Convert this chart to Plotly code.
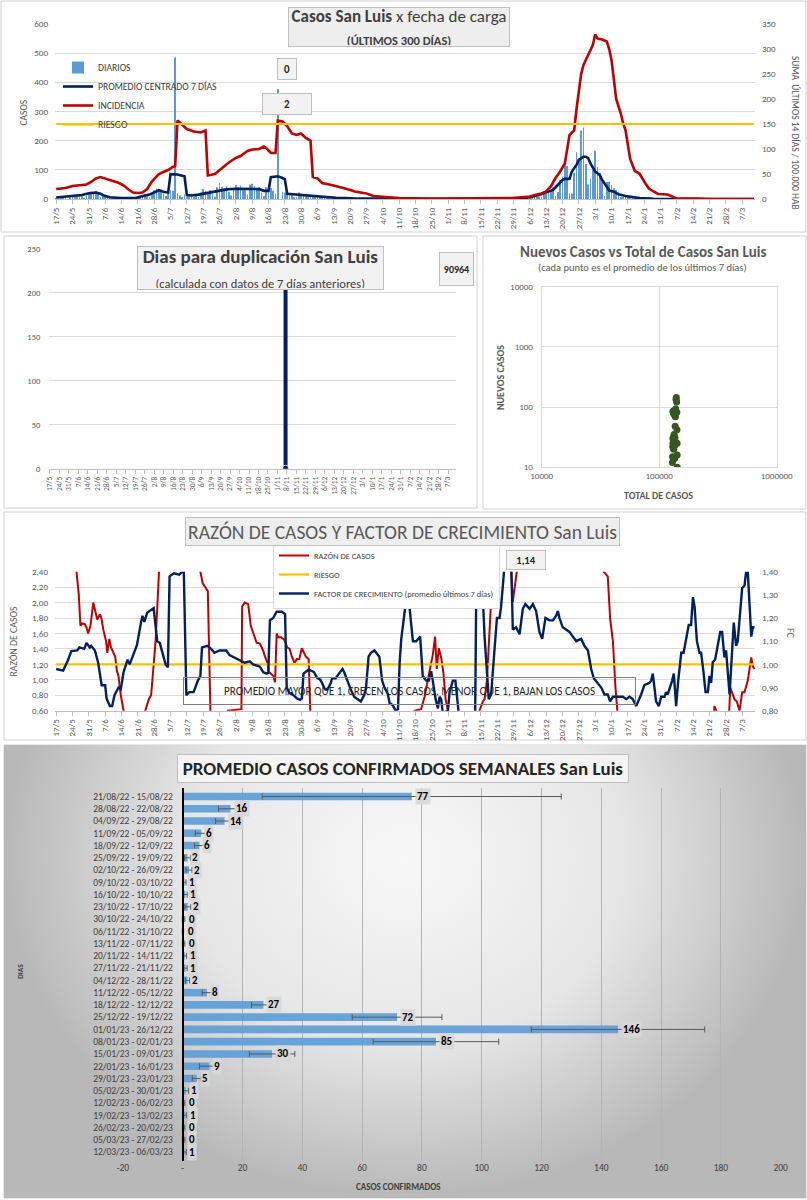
import plotly.graph_objects as go

W, H = 807, 1200
FONT = "Carlito, Lato, sans-serif"


def px(x):
    return x / W


def py(y):
    return 1 - y / H


# ------------------------------------------------------------------ DATA
# x of the daily charts = days since 17/5/2022 (day 0) ... 12/3/2023 (day 299)
tick_days = list(range(0, 295, 7))
tick_text = ["17/5", "24/5", "31/5", "7/6", "14/6", "21/6", "28/6", "5/7", "12/7", "19/7",
             "26/7", "2/8", "9/8", "16/8", "23/8", "30/8", "6/9", "13/9", "20/9", "27/9",
             "4/10", "11/10", "18/10", "25/10", "1/11", "8/11", "15/11", "22/11", "29/11",
             "6/12", "13/12", "20/12", "27/12", "3/1", "10/1", "17/1", "24/1", "31/1",
             "7/2", "14/2", "21/2", "28/2", "7/3"]

# daily reported cases (DIARIOS)
diarios = [
    3, 8, 5, 9, 4, 0, 6,
    12, 8, 14, 10, 15, 3, 12,
    22, 25, 18, 28, 20, 6, 15,
    10, 6, 4, 8, 3, 0, 2,
    2, 4, 3, 1, 5, 0, 2,
    6, 10, 14, 18, 12, 4, 20,
    30, 36, 25, 28, 20, 10, 22,
    30, 28, 485, 20, 12, 6, 15,
    14, 10, 18, 8, 12, 5, 22,
    35, 28, 22, 30, 18, 8, 40,
    55, 42, 30, 44, 25, 12, 35,
    48, 40, 46, 35, 30, 15, 50,
    52, 45, 38, 40, 22, 10,
    40, 36, 38, 28, 18, 376, 0,
    25, 22, 18, 20, 15, 6, 6,
    22, 18, 16, 15, 12, 5, 10,
    10, 8, 6, 7, 5, 2, 4,
    9, 8, 5, 6, 4, 2, 5,
    3, 2, 2, 1, 2, 0, 1,
    3, 2, 3, 2, 2, 1, 2,
    1, 1, 0, 1, 1, 0, 0,
    1, 1, 1, 1, 1, 0, 1,
    2, 2, 1, 2, 3, 0, 2,
    0, 1, 0, 0, 1, 0, 0,
    0, 0, 0, 0, 0, 0, 0,
    0, 1, 0, 0, 1, 0, 0,
    1, 1, 0, 1, 1, 0, 1,
    1, 1, 1, 1, 1, 0, 1,
    2, 1, 2, 2, 2, 0, 2,
    10, 8, 9, 10, 8, 4, 8,
    22, 30, 35, 28, 40, 10, 24,
    65, 77, 119, 113, 19, 19, 90,
    160, 140, 235, 245, 120, 50, 70,
    100, 165, 110, 90, 60, 10, 58,
    59, 48, 37, 31, 25, 6, 4,
    14, 12, 10, 8, 8, 2, 8,
    7, 6, 5, 5, 6, 1, 3,
    2, 1, 1, 1, 1, 0, 1,
    0, 1, 0, 0, 1, 0, 0,
    1, 1, 0, 1, 1, 0, 1,
    0, 0, 1, 0, 1, 0, 0,
    0, 1, 0, 0, 1, 0, 0,
    1, 1, 0, 1, 1, 0, 0,
]
dias = list(range(len(diarios)))

# PROMEDIO CENTRADO 7 DIAS  (day, cases)
promedio = [(0, 5), (7, 10), (11, 14), (14, 20), (17, 22), (19, 18), (21, 10), (23, 6), (28, 3),
            (34, 3), (36, 8), (38, 12), (40, 15), (42, 22), (44, 30), (46, 25), (48, 22), (49, 85),
            (52, 84), (54, 80), (55, 78), (56, 14), (58, 12), (61, 15), (64, 20), (67, 24), (70, 28),
            (73, 33), (77, 35), (83, 35), (87, 34), (89, 28), (91, 28), (92, 75), (95, 78), (97, 72),
            (98, 68), (99, 18), (102, 16), (106, 12), (110, 10), (114, 7), (120, 4), (127, 2),
            (135, 1), (150, 1), (165, 0), (190, 1), (200, 2), (203, 6), (207, 14), (210, 23),
            (213, 31), (215, 48), (217, 65), (218, 69), (220, 69), (221, 94), (223, 117), (224, 134),
            (226, 145), (227, 145), (228, 140), (229, 122), (231, 94), (233, 82), (234, 65),
            (236, 42), (237, 29), (239, 25), (241, 16), (244, 10), (247, 6), (250, 3), (256, 1),
            (270, 0), (299, 0)]

# INCIDENCIA: suma 14 dias / 100.000 hab  (day, value)
incidencia = [(0, 20), (4, 22), (7, 26), (10, 27), (13, 29), (15, 34), (17, 41), (19, 44), (21, 41),
              (23, 38), (25, 36), (27, 32), (29, 27), (31, 19), (33, 13), (35, 12), (37, 13), (39, 20),
              (41, 35), (44, 50), (46, 54), (48, 58), (50, 64), (51, 66), (52, 157), (54, 149),
              (56, 140), (59, 135), (62, 133), (64, 137), (65, 47), (68, 50), (71, 61), (74, 73),
              (77, 82), (79, 86), (82, 96), (84, 99), (87, 100), (89, 105), (90, 102), (92, 92),
              (94, 92), (95, 157), (97, 155), (99, 146), (101, 131), (103, 128), (105, 131),
              (107, 122), (109, 117), (110, 44), (112, 41), (114, 32), (118, 28), (120, 26),
              (123, 22), (126, 18), (128, 15), (133, 11), (136, 6), (141, 4), (147, 2), (160, 1),
              (185, 1), (190, 2), (195, 2), (198, 3), (203, 5), (206, 9), (208, 11), (210, 15),
              (212, 25), (214, 42), (216, 55), (218, 71), (219, 105), (220, 128), (221, 133),
              (222, 137), (223, 180), (224, 218), (225, 250), (226, 268), (227, 278), (228, 285),
              (229, 295), (230, 308), (231, 329), (232, 321), (234, 319), (236, 315), (237, 300),
              (238, 278), (239, 240), (240, 200), (242, 171), (243, 151), (244, 138), (245, 105),
              (246, 80), (248, 56), (250, 51), (252, 35), (254, 21), (256, 15), (258, 10), (262, 9),
              (264, 5), (266, 1), (275, 1), (280, 0), (299, 0)]
riesgo_incidencia = 150

# Dias para duplicacion (day, days)
duplicacion = [(173, 90964), (174, 0)]

# Nuevos casos (prom. 7 dias) vs total de casos
sc_total = [129500, 129900, 130300, 130600, 130900, 131200, 131500, 131900, 132300, 132700,
            133100, 133500, 133900, 134200, 134500, 135400, 135800, 136200, 136700, 137300,
            138100, 139000, 139900, 140700, 141300, 141700, 142000, 142200, 142350]
sc_new = [12, 15, 22, 30, 25, 85, 84, 80, 14, 20, 28, 33, 35, 75, 78, 14, 23, 31, 48, 69, 94,
          134, 145, 122, 82, 42, 25, 16, 10]

# RAZON DE CASOS (day, ratio)  - values outside 0,60-2,40 are off the chart
razon = [(0, 3.0), (8.0, 3.0), (8.7, 2.40), (9.7, 2.10), (10.4, 1.70), (11.2, 1.73), (12.3, 1.72),
         (13.0, 1.68), (13.7, 1.60), (14.7, 1.70), (15.9, 2.00), (16.6, 1.90), (17.6, 1.78),
         (18.8, 1.85), (19.5, 1.78), (20.2, 1.65), (21.4, 1.50), (21.9, 1.35), (22.8, 1.53),
         (23.5, 1.42), (24.5, 1.35), (25.3, 1.30), (26.0, 1.12), (26.7, 1.05), (27.7, 0.80),
         (28.9, 0.60), (29.6, 0.3), (37.6, 0.3), (38.2, 0.60), (39.7, 0.75), (40.7, 0.80),
         (41.6, 1.10), (42.6, 1.50), (43.6, 2.10), (44.4, 2.40), (45.0, 3.0), (61.2, 3.0),
         (61.8, 2.40), (62.8, 2.25), (63.8, 2.20), (65.0, 2.15), (66.1, 0.60), (66.4, 0.3),
         (73.0, 0.3), (73.6, 0.60), (79.4, 0.62), (79.7, 1.95), (80.8, 2.00), (82.3, 1.98),
         (83.4, 1.70), (84.4, 1.62), (85.9, 1.48), (87.3, 1.47), (88.7, 1.38), (89.5, 1.30),
         (90.6, 1.22), (91.2, 1.10), (92.1, 1.08), (93.1, 1.05), (93.8, 0.97), (94.5, 1.60),
         (95.2, 1.55), (96.4, 1.55), (97.4, 1.53), (98.1, 1.50), (99.0, 1.42), (100.1, 1.40),
         (101.0, 1.30), (102.2, 1.22), (103.2, 1.27), (104.2, 1.27), (105.3, 1.41), (106.0, 1.37),
         (107.0, 1.30), (108.2, 1.27), (108.9, 0.60), (109.2, 0.3), (153.0, 0.3), (153.6, 0.60),
         (156.4, 0.62), (157.9, 0.78), (160.0, 1.11), (161.4, 1.32), (162.4, 1.56), (163.1, 1.14),
         (164.0, 1.41), (165.0, 1.29), (166.0, 1.08), (166.9, 0.75), (167.9, 0.60), (168.5, 0.3),
         (180.8, 0.3), (181.4, 0.60), (182.9, 0.72), (183.6, 0.75), (184.6, 0.99), (185.4, 1.50),
         (186.4, 2.01), (187.4, 2.01), (188.6, 2.40), (189.2, 3.0), (194.5, 3.0), (195.0, 2.40),
         (195.7, 2.01), (196.4, 2.16), (197.4, 2.40), (198.0, 3.0), (234.0, 3.0), (234.6, 2.40),
         (236.4, 2.34), (237.4, 1.80), (238.6, 1.50), (239.7, 0.90), (240.7, 0.60), (241.3, 0.3),
         (281.5, 0.3), (282.1, 0.66), (282.9, 0.60), (283.4, 0.3), (288.0, 0.3), (288.9, 0.90),
         (290.7, 0.75), (291.7, 0.72), (292.9, 0.60), (294.0, 0.84), (295.0, 0.84), (296.4, 0.99),
         (297.9, 1.29), (298.6, 1.17), (299.3, 1.14)]
riesgo_razon = 1.20

# FACTOR DE CRECIMIENTO (day, FC) - values outside 0,80-1,40 are off the chart
factor = [(0, 0.98), (3, 0.973), (5, 1.017), (6.5, 1.057), (9, 1.06), (10, 1.073), (12, 1.067),
          (13, 1.093), (14.4, 1.073), (15, 1.08), (16.6, 1.06), (18, 1.007), (19.5, 0.91), (21, 0.91),
          (21.6, 0.853), (23, 0.82), (24, 0.82), (25, 0.867), (26.7, 0.90), (27.7, 0.893),
          (28.9, 0.967), (30.6, 1.02), (31.5, 1.0), (33.2, 1.05), (34.6, 1.083), (36.4, 1.183),
          (37, 1.21), (37.8, 1.183), (39, 1.223), (40.4, 1.233), (41.8, 1.243), (43.3, 1.10),
          (44.4, 1.093), (46.9, 1.0), (47.9, 0.987), (48.6, 1.38), (50.5, 1.393), (52.7, 1.387),
          (54.1, 1.40), (54.6, 1.45), (55.8, 0.867), (57, 0.88), (58.9, 0.88), (60.6, 0.927),
          (61.8, 0.95), (62.5, 1.073), (64.9, 1.08), (66.4, 1.067), (67.8, 1.05), (70, 1.06),
          (72.9, 1.06), (74.3, 1.04), (75.8, 1.033), (77.2, 1.027), (78.6, 1.017), (80.8, 1.007),
          (83, 1.013), (84.4, 1.0), (86.6, 0.993), (87.3, 0.99), (88.7, 0.967), (90.2, 0.96),
          (90.9, 0.963), (91.6, 1.19), (93, 1.20), (94.5, 1.227), (96.7, 1.227), (98.1, 1.217),
          (98.8, 0.90), (99.9, 0.877), (101.7, 0.867), (103.2, 0.853), (104.6, 0.847),
          (105.3, 0.853), (106, 0.96), (108.2, 0.977), (110.4, 0.967), (111.8, 0.943),
          (113.3, 0.933), (114, 0.917), (115.2, 0.893), (116.2, 0.89), (117.6, 0.917), (118.3, 0.94),
          (119.8, 0.94), (121.2, 0.96), (122.7, 0.98), (123.4, 0.967), (124.8, 0.927), (126.3, 0.89),
          (127.7, 0.86), (129.1, 0.85), (130.6, 0.84), (132, 0.867), (132.8, 0.90), (133.9, 1.033),
          (134.9, 1.05), (136.4, 1.06), (137.8, 1.04), (138.5, 1.033), (139.7, 0.93), (140.7, 0.90),
          (142.1, 0.873), (142.9, 0.833), (144.3, 0.823), (145.5, 0.80), (146.5, 0.807),
          (147.2, 1.007), (147.9, 1.11), (150, 1.28), (151.4, 1.25), (152.9, 1.10), (154.3, 1.10),
          (155, 1.11), (156, 1.12), (157.1, 0.95), (158.6, 0.93), (159.7, 0.93), (160.7, 0.97),
          (161.4, 0.93), (162.6, 0.85), (163.6, 0.81), (164.3, 0.86), (165, 0.85), (165.7, 0.79),
          (167.9, 0.80), (168.6, 0.88), (170, 0.93), (171.1, 0.93), (171.7, 0.87), (172.6, 0.78),
          (175.7, 0.70), (179.5, 0.70), (180, 1.28), (181.4, 1.28), (182.6, 1.35), (183.6, 1.12),
          (184.6, 0.97), (185.4, 0.85), (186.4, 0.87), (187.9, 1.05), (188.9, 1.20), (190, 1.20),
          (190.7, 1.25), (192.1, 1.42), (195, 1.45), (195.7, 1.15), (197.1, 1.16), (198.6, 1.13),
          (200, 1.24), (201.1, 1.26), (202.9, 1.24), (204.3, 1.26), (205.7, 1.23), (207.1, 1.14),
          (208.3, 1.11), (209.7, 1.20), (211.4, 1.19), (212.9, 1.19), (214.3, 1.21), (215, 1.23),
          (215.7, 1.20), (217.1, 1.16), (218.6, 1.15), (220, 1.14), (221.4, 1.12), (222.9, 1.10),
          (225, 1.11), (226.4, 1.08), (227.9, 1.06), (229.3, 0.98), (230.4, 0.94), (232.1, 0.92),
          (233.6, 0.90), (235, 0.87), (236.4, 0.87), (237.4, 0.84), (238.6, 0.86), (240.7, 0.86),
          (242.9, 0.86), (244.3, 0.85), (245.7, 0.86), (247.1, 0.85), (248.6, 0.82), (250.7, 0.87),
          (252.1, 0.91), (254.3, 0.92), (255, 0.93), (255.7, 0.96), (256.4, 0.90), (257.1, 0.84),
          (258.3, 0.82), (259.3, 0.86), (260.7, 0.86), (261.4, 0.88), (262.1, 0.87), (263.1, 0.90),
          (264, 0.93), (264.7, 0.96), (265.7, 0.82), (266.6, 0.93), (267.9, 1.05), (268.9, 1.05),
          (270, 1.11), (271.1, 1.17), (272.1, 1.17), (272.9, 1.29), (273.6, 1.25), (274.6, 1.10),
          (275.7, 1.05), (276.4, 1.05), (277.4, 0.97), (278.3, 0.88), (279.3, 0.88), (280, 0.95),
          (280.7, 0.92), (281.4, 1.01), (282.4, 1.02), (283.6, 1.08), (284.6, 1.14), (285.4, 1.14),
          (286.4, 1.03), (287.1, 1.06), (287.9, 0.97), (288.6, 0.87), (290.4, 1.18), (291.4, 1.08),
          (292.1, 1.10), (292.9, 1.20), (294, 1.33), (295, 1.34), (295.7, 1.40), (296.4, 1.40),
          (297.1, 1.25), (297.9, 1.12), (298.6, 1.16), (299.3, 1.16)]

# PROMEDIO CASOS CONFIRMADOS SEMANALES
semanas = ["21/08/22 - 15/08/22", "28/08/22 - 22/08/22", "04/09/22 - 29/08/22",
           "11/09/22 - 05/09/22", "18/09/22 - 12/09/22", "25/09/22 - 19/09/22",
           "02/10/22 - 26/09/22", "09/10/22 - 03/10/22", "16/10/22 - 10/10/22",
           "23/10/22 - 17/10/22", "30/10/22 - 24/10/22", "06/11/22 - 31/10/22",
           "13/11/22 - 07/11/22", "20/11/22 - 14/11/22", "27/11/22 - 21/11/22",
           "04/12/22 - 28/11/22", "11/12/22 - 05/12/22", "18/12/22 - 12/12/22",
           "25/12/22 - 19/12/22", "01/01/23 - 26/12/22", "08/01/23 - 02/01/23",
           "15/01/23 - 09/01/23", "22/01/23 - 16/01/23", "29/01/23 - 23/01/23",
           "05/02/23 - 30/01/23", "12/02/23 - 06/02/23", "19/02/23 - 13/02/23",
           "26/02/23 - 20/02/23", "05/03/23 - 27/02/23", "12/03/23 - 06/03/23"]
prom_semanal = [76.6, 16.0, 14.0, 6.2, 5.6, 1.6, 2.1, 0.6, 0.9, 1.7, 0.3, 0.1, 0.3, 0.7, 0.9,
                1.6, 8.1, 27.0, 71.7, 145.6, 84.7, 29.9, 8.9, 4.7, 1.0, 0.3, 0.7, 0.3, 0.3, 0.6]
err_semanal = [50, 4, 3, 2, 1.6, 1, 1, 0.5, 0.6, 1, 0.4, 0.2, 0.4, 0.6, 0.6, 0.7, 1.6, 4, 15, 29,
               21, 7.6, 3.3, 1.5, 1, 0.4, 0.5, 0.4, 0.4, 0.6]
bar_ticks = [-20, 0, 20, 40, 60, 80, 100, 120, 140, 160, 180, 200]
bar_ticktext = ["-20", "-", "20", "40", "60", "80", "100", "120", "140", "160", "180", "200"]

# ------------------------------------------------------------------ FIGURE
prom_d, prom_v = zip(*promedio)
inc_d, inc_v = zip(*incidencia)
dup_d, dup_v = zip(*duplicacion)
raz_d, raz_v = zip(*razon)
fc_d, fc_v = zip(*factor)

NAVY = "#002060"
RED = "#c00000"
ORANGE = "#ffc000"
GRID = "#d9d9d9"
TICK = "#595959"

fig = go.Figure()

# background gradient of the weekly panel
fig.add_trace(go.Scatter(x=[0, 1, 1, 0, 0], y=[0, 0, 1.5, 1.5, 0], mode="lines", fill="toself",
                         line=dict(width=0),
                         fillgradient=dict(type="radial",
                                           colorscale=[[0, "#f8f8f8"], [0.55, "#e6e6e6"], [1, "#b8b8b8"]]),
                         hoverinfo="skip", showlegend=False, xaxis="x", yaxis="y"))

# ---- panel 1
fig.add_trace(go.Bar(x=dias, y=diarios, width=0.42, marker=dict(color="#5b9bd5", line=dict(width=0)),
                     name="DIARIOS", xaxis="x2", yaxis="y2", legend="legend"))
fig.add_trace(go.Scatter(x=prom_d, y=prom_v, mode="lines", line=dict(color=NAVY, width=2.6),
                         name="PROMEDIO CENTRADO 7 DÍAS", xaxis="x2", yaxis="y2", legend="legend"))
fig.add_trace(go.Scatter(x=inc_d, y=inc_v, mode="lines", line=dict(color=RED, width=2.6),
                         name="INCIDENCIA", xaxis="x2", yaxis="y3", legend="legend"))
fig.add_trace(go.Scatter(x=[dias[0], dias[-1]], y=[riesgo_incidencia] * 2, mode="lines",
                         line=dict(color=ORANGE, width=2.2), name="RIESGO",
                         xaxis="x2", yaxis="y3", legend="legend"))

# ---- panel 2
fig.add_trace(go.Scatter(x=dup_d, y=dup_v, mode="lines+markers", line=dict(color=NAVY, width=4),
                         marker=dict(color=NAVY, size=[0, 7]), showlegend=False,
                         xaxis="x4", yaxis="y4"))

# ---- panel 3
fig.add_trace(go.Scatter(x=sc_total, y=sc_new, mode="markers",
                         marker=dict(color="#375623", size=7), showlegend=False,
                         xaxis="x5", yaxis="y5"))

# ---- panel 4
fig.add_trace(go.Scatter(x=raz_d, y=raz_v, mode="lines", line=dict(color=RED, width=2),
                         name="RAZÓN DE CASOS", xaxis="x6", yaxis="y6", legend="legend2"))
fig.add_trace(go.Scatter(x=[dias[0], dias[-1]], y=[riesgo_razon] * 2, mode="lines",
                         line=dict(color=ORANGE, width=2.2), name="RIESGO",
                         xaxis="x6", yaxis="y6", legend="legend2"))
fig.add_trace(go.Scatter(x=fc_d, y=fc_v, mode="lines", line=dict(color=NAVY, width=2.4),
                         name="FACTOR DE CRECIMIENTO (promedio últimos 7 días)",
                         xaxis="x6", yaxis="y7", legend="legend2"))

# ---- panel 5
fig.add_trace(go.Bar(x=prom_semanal, y=semanas, orientation="h", width=0.62,
                     marker=dict(color="#5b9bd5", opacity=0.9, line=dict(width=0)),
                     error_x=dict(type="data", array=err_semanal, color="#595959",
                                  thickness=1, width=3),
                     showlegend=False, xaxis="x8", yaxis="y8"))

tickfont = dict(family=FONT, size=9, color=TICK)
day_axis = dict(range=[-0.5, 299.5], tickmode="array", tickvals=tick_days, ticktext=tick_text,
                tickangle=-90, ticks="outside", ticklen=4, tickcolor="#bfbfbf",
                showline=True, linecolor="#bfbfbf", showgrid=False, zeroline=False)

annotations = []


def ann(x, y, text, size=10, color="#404040", **kw):
    d = dict(x=px(x), y=py(y), xref="paper", yref="paper", text=text, showarrow=False,
             xanchor="center", yanchor="middle",
             font=dict(family=FONT, size=size, color=color))
    d.update(kw)
    annotations.append(d)


BOX = dict(bgcolor="#eeeeee", bordercolor="#bfbfbf", borderwidth=1)

# panel 1 texts
ann(398.5, 26.5, "<b>Casos San Luis</b> x fecha de carga<br>"
    "<span style='font-size:12.5px'><b>(ÚLTIMOS 300 DÍAS)</b></span>", size=17, width=218,
    height=36, **BOX)
ann(286.5, 69, "<b>0</b>", size=11, color="#262626", width=16, height=18,
    bgcolor="#f2f2f2", bordercolor="#bfbfbf", borderwidth=1)
ann(286.5, 104.5, "<b>2</b>", size=11, color="#262626", width=46, height=18,
    bgcolor="#f2f2f2", bordercolor="#bfbfbf", borderwidth=1)
ann(23.5, 113, "CASOS", size=9.5, color=TICK, textangle=-90)
ann(795, 133, "SUMA  ÚLTIMOS 14 DÍAS / 100.000 HAB", size=9.5, color=TICK, textangle=90)

# panel 2 texts
ann(260.5, 268, "<b>Dias para duplicación San Luis</b><br>"
    "<span style='font-size:12.5px'>(calculada con datos de 7 días anteriores)</span>",
    size=19, width=243, height=40, bgcolor="#f2f2f2", bordercolor="#bfbfbf", borderwidth=1)
ann(456, 268.5, "<b>90964</b>", size=10, color="#262626", width=31, height=30,
    bgcolor="#f2f2f2", bordercolor="#bfbfbf", borderwidth=1)

# panel 3 texts
ann(642.7, 251.7, "<b>Nuevos Casos vs Total de Casos San Luis</b>", size=15, color=TICK)
ann(642.7, 267.5, "(cada punto es el promedio de los últimos 7 días)", size=10.5, color=TICK)
ann(658, 495, "<b>TOTAL DE CASOS</b>", size=10, color=TICK)
ann(500, 377, "<b>NUEVOS CASOS</b>", size=10, color=TICK, textangle=-90)

# panel 4 texts
ann(402.5, 531, "RAZÓN DE CASOS Y FACTOR DE CRECIMIENTO San Luis", size=19.5, color=TICK,
    width=431, height=25, **BOX)
ann(525.5, 560, "<b>1,14</b>", size=10.5, color="#262626", width=36, height=16,
    bgcolor="#f2f2f2", bordercolor="#bfbfbf", borderwidth=1)
ann(409.5, 691, "PROMEDIO MAYOR QUE 1, CRECEN LOS CASOS, MENOR QUE 1, BAJAN LOS CASOS",
    size=11.2, color="#262626", width=449, height=24, bordercolor="#7f7f7f", borderwidth=1)
ann(13.5, 642, "RAZÓN DE CASOS", size=9.8, color=TICK, textangle=-90)
ann(790, 633, "FC", size=9.8, color=TICK, textangle=90)

# panel 5 texts
ann(403, 768, "<b>PROMEDIO CASOS CONFIRMADOS SEMANALES San Luis</b>", size=19,
    color="#262626", width=448, height=25, bgcolor="#f4f4f4", bordercolor="#bfbfbf",
    borderwidth=1)
ann(20, 972, "<b>DIAS</b>", size=7.5, color="#404040", textangle=-90)
ann(398, 1186, "<b>CASOS CONFIRMADOS</b>", size=9, color="#404040")
for v, s in zip(prom_semanal, semanas):
    annotations.append(dict(x=v, y=s, xref="x8", yref="y8", text="<b>%d</b>" % round(v),
                            showarrow=False, xanchor="left", yanchor="middle", xshift=3,
                            font=dict(family=FONT, size=11, color="#000000"),
                            bgcolor="rgba(215,215,215,0.9)", borderpad=1))

# panel borders
shapes = []
for (x0, y0, x1, y1) in [(1, 1, 806, 232), (4, 236, 477, 508), (483, 236, 806, 509),
                         (4, 512, 806, 740), (4, 745, 806, 1198)]:
    shapes.append(dict(type="rect", xref="paper", yref="paper", x0=px(x0), x1=px(x1),
                       y0=py(y1), y1=py(y0), line=dict(color="#d0d0d0", width=1),
                       fillcolor="rgba(0,0,0,0)", layer="below"))

fig.update_layout(
    width=W, height=H, autosize=False,
    margin=dict(l=0, r=0, t=0, b=0, pad=0, autoexpand=False),
    paper_bgcolor="white", plot_bgcolor="rgba(0,0,0,0)", separators=",.",
    font=dict(family=FONT, size=9, color=TICK),
    # background axes
    xaxis=dict(domain=[px(4), px(806)], range=[0, 1], visible=False, fixedrange=True),
    yaxis=dict(domain=[py(1198), py(745)], range=[0, 1], visible=False, fixedrange=True),
    # panel 1
    xaxis2=dict(domain=[px(55), px(755)], anchor="y2", tickfont=tickfont, **day_axis),
    yaxis2=dict(domain=[py(199), py(24)], anchor="x2", range=[0, 600], dtick=100,
                gridcolor=GRID, zeroline=False, tickfont=tickfont, ticklabelstandoff=6),
    yaxis3=dict(overlaying="y2", anchor="x2", side="right", range=[0, 350], dtick=50,
                showgrid=False, zeroline=False, tickfont=tickfont, ticklabelstandoff=6),
    # panel 2
    xaxis4=dict(domain=[px(49.3), px(455.5)], anchor="y4",
                tickfont=dict(family=FONT, size=7.5, color=TICK), **day_axis),
    yaxis4=dict(domain=[py(468.7), py(249)], anchor="x4", range=[0, 250], dtick=50,
                gridcolor=GRID, zeroline=False, tickfont=dict(family=FONT, size=8.5, color=TICK),
                ticklabelstandoff=8),
    # panel 3
    xaxis5=dict(domain=[px(541.7), px(776.7)], anchor="y5", type="log", range=[4, 6],
                tickmode="array", tickvals=[1e4, 1e5, 1e6],
                ticktext=["10000", "100000", "1000000"], gridcolor=GRID, showline=True,
                mirror=True, linecolor=GRID, zeroline=False,
                tickfont=dict(family=FONT, size=9, color=TICK)),
    yaxis5=dict(domain=[py(467.3), py(286.7)], anchor="x5", type="log", range=[1, 4],
                tickmode="array", tickvals=[10, 100, 1000, 10000],
                ticktext=["10", "100", "1000", "10000"], gridcolor=GRID, showline=True,
                mirror=True, linecolor=GRID, zeroline=False,
                tickfont=dict(family=FONT, size=9, color=TICK), ticklabelstandoff=6),
    # panel 4
    xaxis6=dict(domain=[px(55), px(755)], anchor="y6", tickfont=tickfont, **day_axis),
    yaxis6=dict(domain=[py(710.7), py(571.7)], anchor="x6", range=[0.6, 2.4], tick0=0.6,
                dtick=0.2, tickformat=".2f", gridcolor=GRID, zeroline=False,
                tickfont=tickfont, ticklabelstandoff=6),
    yaxis7=dict(overlaying="y6", anchor="x6", side="right", range=[0.8, 1.4], tick0=0.8,
                dtick=0.1, tickformat=".2f", showgrid=False, zeroline=False,
                tickfont=tickfont, ticklabelstandoff=6),
    # panel 5
    xaxis8=dict(domain=[px(122.9), px(780.7)], anchor="y8", range=[-20, 200],
                tickmode="array", tickvals=bar_ticks, ticktext=bar_ticktext,
                gridcolor="#b4b4b4", zeroline=False, showline=False,
                tickfont=dict(family=FONT, size=9.5, color="#404040")),
    yaxis8=dict(domain=[py(1160.5), py(788)], anchor="free", position=px(182.7),
                type="category", autorange="reversed", showline=True, linecolor="#000000",
                linewidth=2, ticks="", showgrid=False, ticklabelstandoff=7,
                tickfont=dict(family=FONT, size=9.5, color="#404040")),
    legend=dict(x=px(58), y=py(53), xanchor="left", yanchor="top", bgcolor="rgba(0,0,0,0)",
                font=dict(family=FONT, size=9.7, color="#404040"), itemwidth=30,
                tracegroupgap=0),
    legend2=dict(x=px(273), y=py(540), xanchor="left", yanchor="top", bgcolor="white",
                 bordercolor="#d9d9d9", borderwidth=1,
                 font=dict(family=FONT, size=8.5, color="#404040"), itemwidth=30),
    annotations=annotations, shapes=shapes,
)

fig.write_html("out.html", config={"displayModeBar": False},
               post_script="document.body.style.margin='0';document.body.style.padding='0';")
